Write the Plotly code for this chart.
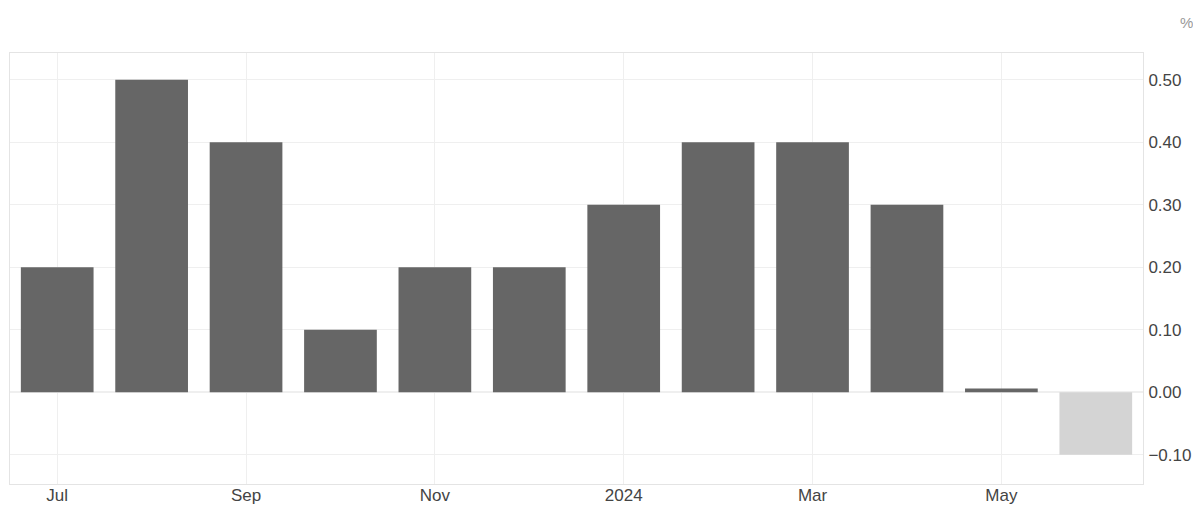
import plotly.graph_objects as go

months = ["Jul 2023", "Aug 2023", "Sep 2023", "Oct 2023", "Nov 2023", "Dec 2023",
          "Jan 2024", "Feb 2024", "Mar 2024", "Apr 2024", "May 2024", "Jun 2024"]
values = [0.2, 0.5, 0.4, 0.1, 0.2, 0.2, 0.3, 0.4, 0.4, 0.3, 0.006, -0.1]
forecast = [False] * 11 + [True]
tick_months = ["Jul 2023", "Sep 2023", "Nov 2023", "Jan 2024", "Mar 2024", "May 2024"]
tick_labels = ["Jul", "Sep", "Nov", "2024", "Mar", "May"]
y_ticks = [-0.1, 0.0, 0.1, 0.2, 0.3, 0.4, 0.5]

colors = ["#d4d4d4" if f else "#666666" for f in forecast]

fig = go.Figure(go.Bar(x=months, y=values, marker=dict(color=colors, line=dict(width=0))))

grid = "#efefef"
fig.update_layout(
    width=1193, height=499,
    margin=dict(l=2, r=58, t=45, b=23, autoexpand=False),
    plot_bgcolor="white", paper_bgcolor="white",
    bargap=0.23,
    showlegend=False,
    font=dict(family="Liberation Sans, Arial, sans-serif", size=17, color="#444444"),
    xaxis=dict(type="category", range=[-0.5, 11.5], automargin=False,
               tickmode="array", tickvals=tick_months, ticktext=tick_labels,
               showgrid=True, gridcolor=grid, ticks="", ticklabelstandoff=-4,
               tickfont=dict(size=17, color="#444444"),
               showline=True, linecolor="#e4e4e4", mirror=True),
    yaxis=dict(side="right", range=[-0.147, 0.543], tickmode="array", tickvals=y_ticks,
               tickformat=".2f", showgrid=True, gridcolor=grid, automargin=False,
               zeroline=True, zerolinecolor=grid, ticks="", ticklabelstandoff=1,
               tickfont=dict(size=17, color="#444444"),
               showline=True, linecolor="#e4e4e4", mirror=True),
    annotations=[dict(text="%", xref="paper", yref="paper", x=1.0, xshift=43, y=1.0, yshift=31,
                      xanchor="center", yanchor="middle",
                      showarrow=False, font=dict(size=15, color="#999999"))],
)

fig.write_html("out.html")
